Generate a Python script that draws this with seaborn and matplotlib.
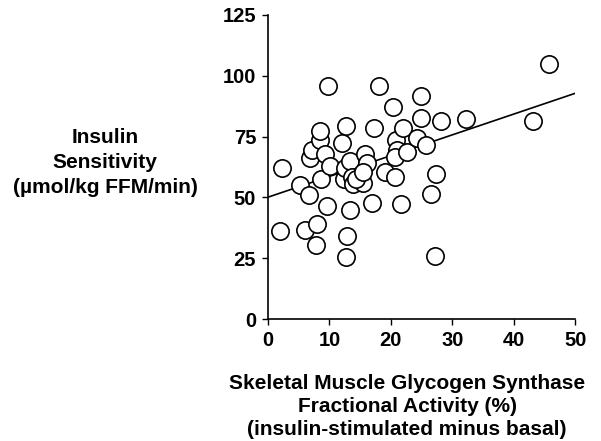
import matplotlib
matplotlib.use('Agg')
import matplotlib.pyplot as plt
import pandas as pd
import seaborn as sns

# glycogen synthase fractional activity (%), insulin-stimulated minus basal
gs_activity = [2.3, 2.0, 5.2, 6.7, 6.0, 7.9, 7.8, 9.6, 6.8, 7.1,
               8.5, 8.5, 9.8, 9.2, 8.6, 10.1, 12.0, 12.7, 12.3, 12.6,
               13.4, 13.6, 13.4, 12.9, 12.7, 13.9, 15.5, 14.4, 15.8, 16.1,
               15.4, 17.0, 17.3, 18.1, 19.1, 20.7, 20.4, 20.8, 21.0, 20.7,
               21.7, 22.0, 22.6, 24.3, 24.9, 24.9, 25.7, 27.4, 26.5, 27.2,
               28.2, 32.2, 43.1, 45.7]
# insulin sensitivity (umol/kg FFM/min)
insulin_sens = [62.0, 36.0, 55.0, 51.0, 36.5, 39.0, 30.5, 46.5, 66.0, 69.5,
                73.5, 77.5, 96.0, 68.0, 57.5, 63.0, 72.3, 79.2, 57.6, 62.0,
                64.8, 58.5, 44.7, 34.0, 25.3, 55.6, 56.0, 57.6, 68.0, 64.3,
                60.3, 47.8, 78.6, 96.0, 60.5, 58.3, 87.0, 73.4, 69.5, 66.5,
                47.2, 78.6, 68.5, 74.6, 91.8, 82.8, 71.6, 59.7, 51.5, 25.8,
                81.6, 82.2, 81.6, 104.8]

# regression line end points
fit_x = [0, 50]
fit_y = [50.1, 92.8]

df = pd.DataFrame({'gs': gs_activity, 'si': insulin_sens})
fit = pd.DataFrame({'gs': fit_x, 'si': fit_y})

sns.set_style('ticks')
plt.rcParams['font.family'] = ['Liberation Sans', 'DejaVu Sans']
plt.rcParams['font.weight'] = 'bold'
plt.rcParams['text.color'] = 'black'

fig = plt.figure(figsize=(6.01, 4.41), dpi=100)
ax = fig.add_axes([0.446, 0.2766, 0.511, 0.6894])

sns.lineplot(data=fit, x='gs', y='si', color='black', linewidth=1.2, ax=ax, zorder=2)
sns.scatterplot(data=df, x='gs', y='si', s=155, facecolor='white',
                edgecolor='black', linewidth=1.2, ax=ax, zorder=3, clip_on=False)

ax.set_xlim(0, 50)
ax.set_ylim(0, 125)
ax.set_xticks([0, 10, 20, 30, 40, 50])
ax.set_yticks([0, 25, 50, 75, 100, 125])
ax.tick_params(direction='out', length=4.5, width=1, labelsize=14.5,
               colors='black', pad=4)
for lab in ax.get_xticklabels() + ax.get_yticklabels():
    lab.set_fontweight('bold')
for sp in ['left', 'bottom']:
    ax.spines[sp].set_linewidth(1.2)
    ax.spines[sp].set_color('black')
sns.despine(ax=ax)

ax.set_ylabel('Insulin\nSensitivity\n(µmol/kg FFM/min)', rotation=0, fontsize=15,
              fontweight='bold', color='black', ha='center', va='center',
              linespacing=1.4)
ax.yaxis.set_label_coords(-0.531, 0.516)
ax.set_xlabel('Skeletal Muscle Glycogen Synthase\nFractional Activity (%)\n(insulin-stimulated minus basal)',
              fontsize=15, fontweight='bold', color='black', ha='center', va='top',
              linespacing=1.27)
ax.xaxis.set_label_coords(0.453, -0.18)

fig.savefig('out.png', dpi=100)
plt.close(fig)
